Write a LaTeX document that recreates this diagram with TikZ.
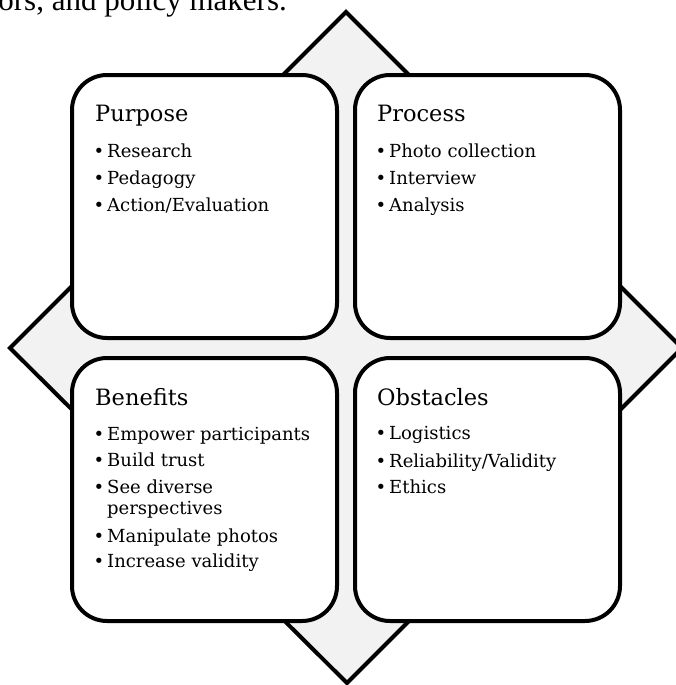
\documentclass[tikz,border=0pt]{standalone}
\usepackage{fontspec}
\setmainfont{DejaVu Serif}
\newfontfamily\topfont{Liberation Serif}
\definecolor{diamondgray}{HTML}{F2F2F2}
\begin{document}
\begin{tikzpicture}[x=1pt,y=-1pt,
  diamondshape/.style={draw=black, fill=diamondgray, line width=4pt, line join=miter},
  qbox/.style={draw=black, fill=white, line width=4pt, rounded corners=35pt,
    rectangle, inner sep=0pt, outer sep=0pt, anchor=north west,
    minimum width=265pt, minimum height=263pt},
  head/.style={anchor=base west, inner sep=0pt, font=\fontsize{22.5}{26}\selectfont},
  itemtext/.style={anchor=base west, inner sep=0pt, font=\fontsize{18}{21}\selectfont},
  dot/.style={anchor=base, inner sep=0pt, font=\fontsize{18}{21}\selectfont},
  toptext/.style={anchor=base east, inner sep=0pt, font=\topfont\fontsize{31}{36}\selectfont}]
\useasboundingbox (0,0) rectangle (676,685);
% caption fragment cut off at the top
\node[toptext] (cap) at (287,11) {ors, and policy makers.};
% background diamond
\coordinate (dtop) at (346,12);
\coordinate (dright) at (682,348);
\coordinate (dbottom) at (347,683);
\coordinate (dleft) at (10,348);
\draw[diamondshape] (dtop) -- (dright) -- (dbottom) -- (dleft) -- cycle;
% four boxes
\node[qbox] (purpose) at (72,75) {};
\node[qbox] (process) at (355,75) {};
\node[qbox] (benefits) at (72,358) {};
\node[qbox] (obstacles) at (355,358) {};
% Purpose
\node[head] (purposeh) at (95,121) {Purpose};
\node[dot] (pb1) at (99,157) {•};
\node[itemtext] (pt1) at (107,157) {Research};
\node[dot] (pb2) at (99,184) {•};
\node[itemtext] (pt2) at (107,184) {Pedagogy};
\node[dot] (pb3) at (99,211) {•};
\node[itemtext] (pt3) at (107,211) {Action/Evaluation};
% Process
\node[head] (processh) at (377,121) {Process};
\node[dot] (rb1) at (381,157) {•};
\node[itemtext] (rt1) at (389,157) {Photo collection};
\node[dot] (rb2) at (381,184) {•};
\node[itemtext] (rt2) at (389,184) {Interview};
\node[dot] (rb3) at (381,211) {•};
\node[itemtext] (rt3) at (389,211) {Analysis};
% Benefits
\node[head] (benefitsh) at (95,405) {Benefits};
\node[dot] (bb1) at (99,440) {•};
\node[itemtext] (bt1) at (107,440) {Empower participants};
\node[dot] (bb2) at (99,466) {•};
\node[itemtext] (bt2) at (107,466) {Build trust};
\node[dot] (bb3) at (99,493) {•};
\node[itemtext] (bt3) at (107,493) {See diverse};
\node[itemtext] (bt3b) at (107,514) {perspectives};
\node[dot] (bb4) at (99,542) {•};
\node[itemtext] (bt4) at (107,542) {Manipulate photos};
\node[dot] (bb5) at (99,567) {•};
\node[itemtext] (bt5) at (107,567) {Increase validity};
% Obstacles
\node[head] (obstaclesh) at (377,405) {Obstacles};
\node[dot] (ob1) at (381,439) {•};
\node[itemtext] (ot1) at (389,439) {Logistics};
\node[dot] (ob2) at (381,467) {•};
\node[itemtext] (ot2) at (389,467) {Reliability/Validity};
\node[dot] (ob3) at (381,493) {•};
\node[itemtext] (ot3) at (389,493) {Ethics};
\end{tikzpicture}
\end{document}
